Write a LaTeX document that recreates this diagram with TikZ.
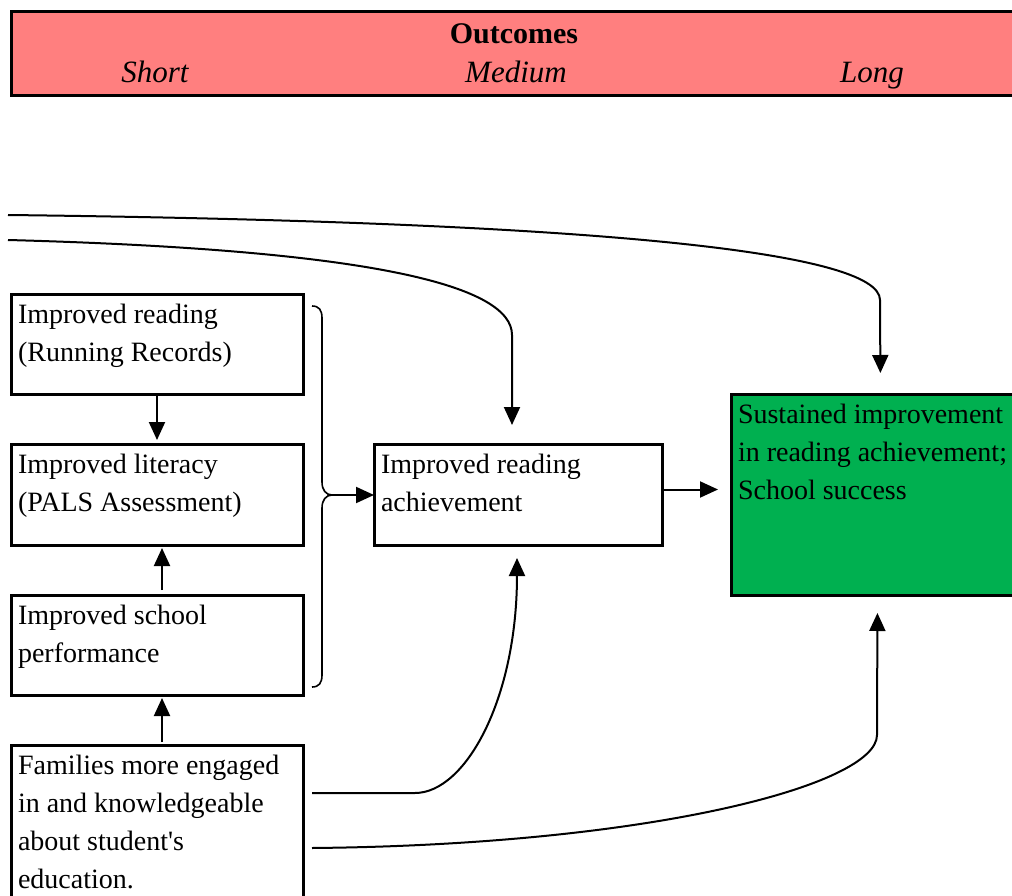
\documentclass[tikz,border=0pt]{standalone}
\usepackage{fontspec}
\setmainfont{Liberation Serif}
\usetikzlibrary{arrows.meta}

\definecolor{hdrpink}{HTML}{FF7F7F}
\definecolor{goalgreen}{HTML}{00B050}

% text block of a box: fixed height, top aligned, explicit lines
\newcommand\boxtext[3]{\parbox[b][#1][t]{#2}{\raggedright\fontsize{28}{38}\selectfont\rule{0pt}{29pt}#3}}

\tikzset{
  boxstyle/.style={draw, line width=3pt, anchor=north west, inner xsep=7pt, inner ysep=0pt, outer sep=0pt},
  link/.style={line width=2pt},
  arr/.style={line width=2pt, -{Triangle[length=18pt,width=16pt]}},
  hdrtext/.style={anchor=base, inner sep=0pt, font=\fontsize{30}{34}\selectfont},
}

\begin{document}
\begin{tikzpicture}[x=1pt, y=-1pt]
\useasboundingbox (0,0) rectangle (1012,896);
\clip (0,0) rectangle (1012,896);

% header band
\node[draw, fill=hdrpink, line width=3pt, anchor=north west, inner sep=0pt,
      minimum width=1030pt, minimum height=84pt] (hdr) at (10,10) {};
\node[hdrtext, font=\fontsize{30}{34}\selectfont\bfseries] (ttl) at (514,44) {Outcomes};
\node[hdrtext, font=\fontsize{31}{34}\selectfont\itshape] (short) at (155,83) {Short};
\node[hdrtext, font=\fontsize{31}{34}\selectfont\itshape] (medium) at (516,83) {Medium};
\node[hdrtext, font=\fontsize{31}{34}\selectfont\itshape] (long) at (872,83) {Long};

% short-term outcome boxes
\node[boxstyle] (b1) at (11,294) {\boxtext{100pt}{278pt}{Improved reading\\(Running Records)}};
\node[boxstyle] (b2) at (11,444) {\boxtext{101pt}{278pt}{Improved literacy\\(PALS Assessment)}};
\node[boxstyle] (b3) at (11,595) {\boxtext{100pt}{278pt}{Improved school\\performance}};
\node[boxstyle] (b4) at (11,745) {\boxtext{170pt}{278pt}{Families more engaged\\in and knowledgeable\\about student\textquotesingle s\\education.}};

% medium and long term
\node[boxstyle] (b5) at (374,444) {\boxtext{101pt}{274pt}{Improved reading\\achievement}};
\node[boxstyle, fill=goalgreen] (goal) at (731,394) {\boxtext{201pt}{285pt}{Sustained improvement\\in reading achievement;\\School success}};

% brace grouping the three short-term boxes
\coordinate (bt) at (332,495);
\draw[link, line width=1.6pt] (312,306) .. controls (319,306) and (322,310) .. (322,318) -- (322,482)
   .. controls (322,490) and (326,495) .. (bt)
   .. controls (326,495) and (322,500) .. (322,508) -- (322,675)
   .. controls (322,683) and (319,687) .. (312,687);

% arrows between boxes
\draw[arr, shorten >=4pt] (b1.south) -- (b2.north);
\draw[arr, shorten <=5pt, shorten >=3pt] ([xshift=5pt]b3.north) -- ([xshift=5pt]b2.south);
\draw[arr, shorten <=3pt, shorten >=3pt] ([xshift=5pt]b4.north) -- ([xshift=5pt]b3.south);
\draw[arr] (bt) -- (b5.west |- bt);
\draw[arr, shorten >=13pt] ([yshift=5pt]b5.east) -- ([yshift=5pt]b5.east -| goal.west);

% long connectors entering from the left
\coordinate (l1) at (8,215);
\coordinate (l2) at (8,240);
\draw[arr, shorten >=21pt] (l1) .. controls (600,222) and (880,252) .. (880,300) -- (goal.north);
\draw[arr, shorten >=19pt] (l2) .. controls (380,250) and (512,287) .. (512,335) -- ([xshift=-6pt]b5.north);

% connectors from the family box
\coordinate (f1) at (312,793);
\coordinate (f2) at (312,848);
\draw[arr, shorten >=13pt] (f1) -- (415,793) .. controls (465,793) and (517,700) .. (517,575) -- ([xshift=-1pt]b5.south);
\draw[arr, shorten >=18pt] (f2) .. controls (650,845) and (877,785) .. (877,735) -- ([xshift=-3pt]goal.south);
\end{tikzpicture}
\end{document}
